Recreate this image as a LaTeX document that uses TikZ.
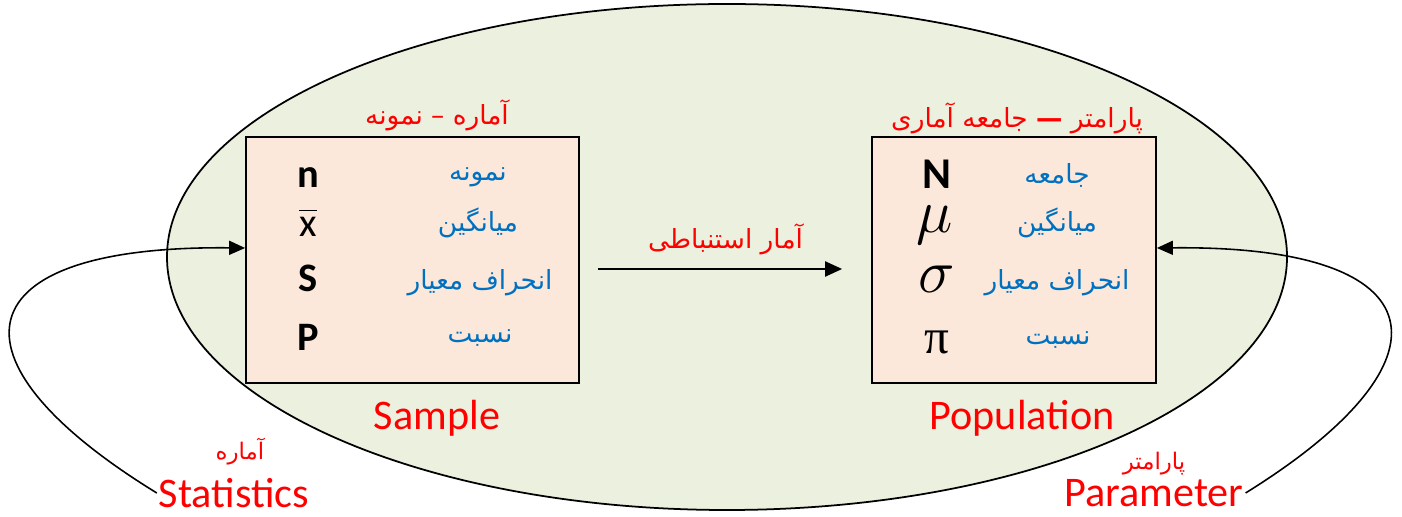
\documentclass[tikz,border=0pt]{standalone}
\usepackage{fix-cm}
\usepackage{amsmath}
\usepackage{fontspec}
\usepackage{xcolor}
\usepackage{tikz}
\usetikzlibrary{positioning, arrows.meta, calc}
\TeXXeTstate=1
\setmainfont{Carlito}
\newfontfamily\arabicfont[Script=Arabic]{DejaVu Sans}
\newfontfamily\timesfont{Liberation Serif}
\newcommand{\fatext}[1]{{\arabicfont\beginR #1\endR}}
\definecolor{cloudgreen}{HTML}{EBF1DE}
\definecolor{boxpeach}{HTML}{FCE8DA}
\definecolor{faBlue}{HTML}{0070C0}
\definecolor{faRed}{HTML}{FF0000}

\begin{document}
\begin{tikzpicture}[
  box/.style={
    rectangle, draw, line width=1pt, fill=boxpeach, minimum height=4.92cm
  },
  sym/.style={font=\fontsize{23}{26}\selectfont\bfseries, inner sep=0pt},
  greek/.style={font=\fontsize{35}{36}\selectfont, inner sep=0pt},
  falabel/.style={text=faBlue, font=\fontsize{15}{18}\selectfont, inner sep=1pt},
  fatitle/.style={text=faRed, font=\fontsize{15}{18}\selectfont, inner sep=1pt},
  bigred/.style={text=faRed, font=\fontsize{24}{28}\selectfont, inner sep=1pt},
  arrow/.style={-{Triangle[length=3.4mm, width=3mm]}, line width=1.2pt},
  curve/.style={-{Triangle[length=3.2mm, width=2.8mm]}, line width=0.9pt}
]
\useasboundingbox (0,0) rectangle (28.04,10.34);

% ==================== BACKGROUND ====================
\draw[fill=cloudgreen, line width=1pt] (14.54,5.2) ellipse (11.2cm and 5.06cm);

% ==================== BOXES ====================
\node[box, minimum width=6.66cm] (sample) at (8.25,5.14) {};
\node[box, minimum width=5.68cm] (population) at (20.28,5.14) {};

\node[fatitle] (sample_title) at (8.74,8.04) {\fatext{آماره – نمونه}};
\node[fatitle] (pop_title) at (20.34,7.98) {\fatext{پارامتر \textbf{—} جامعه آماری}};

% Sample rows
\node[sym] (s_n) at (6.16,6.78) {n};
\node[sym, font=\fontsize{23}{26}\selectfont] (s_x) at (6.16,5.90) {$\overline{\hbox{x}}$};
\node[sym] (s_s) at (6.16,4.78) {S};
\node[sym] (s_p) at (6.16,3.60) {P};
\node[falabel] (s_n_fa) at (9.56,6.80) {\fatext{نمونه}};
\node[falabel] (s_x_fa) at (9.56,5.88) {\fatext{میانگین}};
\node[falabel] (s_s_fa) at (9.60,4.68) {\fatext{انحراف معیار}};
\node[falabel] (s_p_fa) at (9.60,3.58) {\fatext{نسبت}};

% Population rows
\node[sym, font=\fontsize{25}{28}\selectfont\bfseries] (p_n) at (18.74,6.86) {N};
\node[greek] (p_mu) at (18.70,5.84) {$\mu$};
\node[greek] (p_sigma) at (18.74,4.76) {$\sigma$};
\node[greek, font=\fontsize{28}{30}\selectfont\timesfont] (p_pi) at (18.74,3.50) {π};
\node[falabel] (p_n_fa) at (21.14,6.84) {\fatext{جامعه}};
\node[falabel] (p_mu_fa) at (21.14,5.88) {\fatext{میانگین}};
\node[falabel] (p_sigma_fa) at (21.14,4.68) {\fatext{انحراف معیار}};
\node[falabel] (p_pi_fa) at (21.16,3.54) {\fatext{نسبت}};

% Box captions
\node[bigred] (sample_cap) at (8.74,1.98) {Sample};
\node[bigred] (pop_cap) at (20.44,1.98) {Population};

% Outside labels
\node[bigred] (stat) at (4.68,0.48) {Statistics};
\node[fatitle, font=\fontsize{13}{16}\selectfont] (stat_fa) at (4.80,1.30) {\fatext{آماره}};
\node[bigred] (param) at (23.08,0.48) {Parameter};
\node[fatitle, font=\fontsize{13}{16}\selectfont] (param_fa) at (23.08,1.06) {\fatext{پارامتر}};

% ==================== CONNECTIONS ====================
\draw[arrow, shorten <=0.36cm, shorten >=0.58cm] ([yshift=-0.18cm]sample.east) -- ([yshift=-0.18cm]population.west)
  node[midway, above=0.22cm, fatitle] (infer) {\fatext{آمار استنباطی}};

\draw[curve] (stat.west) .. controls (-1.2,3.14) and (-0.8,5.44) .. ([yshift=0.24cm]sample.west);
\draw[curve] (param.east) .. controls (29.2,3.14) and (28.8,5.44) .. ([yshift=0.24cm]population.east);
\end{tikzpicture}
\end{document}
